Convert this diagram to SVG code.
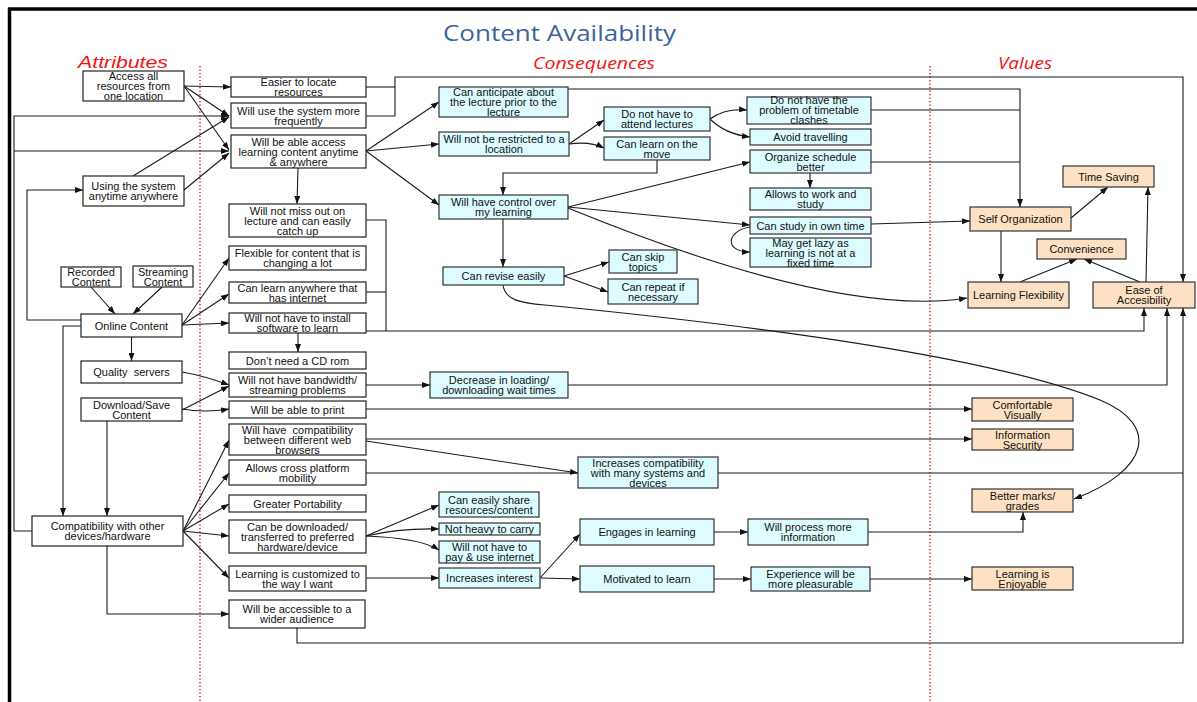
<svg xmlns="http://www.w3.org/2000/svg" width="1197" height="702" viewBox="0 0 1197 702">
<defs>
<marker id="a" viewBox="0 0 8 6" refX="8" refY="3" markerWidth="8" markerHeight="6" markerUnits="userSpaceOnUse" orient="auto"><path d="M0,0 L8,3 L0,6 z" fill="#111"/></marker>
<style>
.n rect{fill:#fff;stroke:#222;stroke-width:1.2}
.b rect{fill:#dcfcff;stroke:#333;stroke-width:1.2}
.v rect{fill:#fde1c2;stroke:#333;stroke-width:1.2}
text{font-family:"Liberation Sans",Arial,sans-serif;font-size:11px;text-anchor:middle;fill:#111;white-space:pre}
.h{font-style:italic;fill:#f01414;font-size:17px}
#conn path{fill:none;stroke:#1a1a1a;stroke-width:1.1}
#conn .ar{marker-end:url(#a)}
.dot{stroke:#c00000;stroke-width:1.3;stroke-dasharray:1.3,2.2}
</style>
</defs>
<rect width="1197" height="702" fill="#fff"/>
<line x1="8" y1="9" x2="1197" y2="9" stroke="#000" stroke-width="3.5"/>
<line x1="9.5" y1="8" x2="9.5" y2="702" stroke="#000" stroke-width="3.5"/>
<line class="dot" x1="200" y1="66" x2="200" y2="702"/>
<line class="dot" x1="930" y1="66" x2="930" y2="702"/>
<text x="559.5" y="41" style="font-family:'Open Sans','Liberation Sans',sans-serif;font-size:22px;fill:#3c6499" textLength="233" lengthAdjust="spacingAndGlyphs">Content Availability</text>
<text class="h" x="123" y="68" textLength="90" lengthAdjust="spacingAndGlyphs">Attributes</text>
<text class="h" x="594" y="69" style="font-family:'Open Sans','Liberation Sans',sans-serif" textLength="122" lengthAdjust="spacingAndGlyphs">Consequences</text>
<text class="h" x="1025" y="69" style="font-family:'Open Sans','Liberation Sans',sans-serif" textLength="54" lengthAdjust="spacingAndGlyphs">Values</text>

<g id="conn">
<path class="ar" d="M184,86 L231,87"/>
<path class="ar" d="M184,86 L229,116"/>
<path class="ar" d="M184,86 L229,150"/>
<path class="ar" d="M32,531 H14 V116 H229"/>
<path class="ar" d="M14,151 H229"/>
<path class="ar" d="M81,320 H27 V190 H83"/>
<path class="ar" d="M133,176 L229,117"/>
<path class="ar" d="M184,190 L229,153"/>
<path class="ar" d="M81,326 H63 V516"/>
<path class="ar" d="M107,421 V516"/>
<path class="ar" d="M91,287 L115,314"/>
<path class="ar" d="M162,287 L133,314"/>
<path class="ar" d="M131.5,337 V361"/>
<path class="ar" d="M182,325 L229,258"/>
<path class="ar" d="M182,325 L229,294"/>
<path class="ar" d="M182,325 L229,323"/>
<path class="ar" d="M182,372 Q205,376 229,385"/>
<path class="ar" d="M182,410 L229,386"/>
<path class="ar" d="M182,409 Q205,413 229,409"/>
<path class="ar" d="M298,333 V352"/>
<path class="ar" d="M298,168 L297,204"/>
<path class="ar" d="M183,531 L229,440"/>
<path class="ar" d="M183,531 L229,473"/>
<path class="ar" d="M183,531 L229,504"/>
<path class="ar" d="M183,531 L229,536"/>
<path class="ar" d="M183,531 L229,578"/>
<path class="ar" d="M107,546 V614 H229"/>
<path class="ar" d="M297,628 V643 H1183 V308"/>
<path d="M366,473 H1183"/>
<path class="ar" d="M568,385 H1167 V308"/>
<path d="M366,220 H386 V331"/>
<path d="M366,292 H386"/>
<path class="ar" d="M366,331 H1144 V308"/>
<path d="M366,87 H395"/>
<path class="ar" d="M366,116 H395 V77 H1183 V282"/>
<path class="ar" d="M568,89 H1020 V207"/>
<path d="M871,110 H1020"/>
<path d="M871,162 H1020"/>
<path class="ar" d="M871,224 L970,221"/>
<path class="ar" d="M1071,218 L1108,187"/>
<path class="ar" d="M1001,231 V282"/>
<path class="ar" d="M1020,282 L1077,259"/>
<path class="ar" d="M1140,282 L1084,259"/>
<path class="ar" d="M1146,282 L1148,187"/>
<path class="ar" d="M366,151 L439,102"/>
<path class="ar" d="M366,151 L439,144"/>
<path class="ar" d="M366,151 L439,205"/>
<path class="ar" d="M569,144 L604,120"/>
<path class="ar" d="M569,144 Q590,141 604,148"/>
<path class="ar" d="M657,160 V173 H503 V195"/>
<path class="ar" d="M710,119 Q725,108 747,110"/>
<path class="ar" d="M710,119 Q725,134 750,137"/>
<path class="ar" d="M810,173 V188"/>
<path class="ar" d="M568,207 L750,162"/>
<path class="ar" d="M568,207 L750,225"/>
<path class="ar" d="M568,208 C700,262 860,315 967,298"/>
<path class="ar" d="M750,227 C726,231 724,252 750,252"/>
<path class="ar" d="M503,219 V267"/>
<path class="ar" d="M564,276 L609,262"/>
<path class="ar" d="M564,276 L608,292"/>
<path class="ar" d="M503,285 C505,300 520,303 545,305 C800,330 1000,360 1100,400 C1160,425 1150,470 1074,499"/>
<path class="ar" d="M366,385 H430"/>
<path class="ar" d="M366,409 H972"/>
<path class="ar" d="M366,439 H972"/>
<path class="ar" d="M366,441 L578,473"/>
<path class="ar" d="M366,536 L439,505"/>
<path class="ar" d="M366,536 Q400,528 439,529"/>
<path class="ar" d="M366,536 Q420,538 439,550"/>
<path class="ar" d="M366,578 H439"/>
<path class="ar" d="M540,578 L580,534"/>
<path class="ar" d="M540,578 L580,579"/>
<path class="ar" d="M714,532 L748,532"/>
<path class="ar" d="M709,579 H751"/>
<path class="ar" d="M868,532 H1023 V512"/>
<path class="ar" d="M870,579 H972"/>
</g>

<g id="access" class="n"><rect x="83" y="71" width="101" height="30"/><text x="133.5" y="80">Access all</text><text x="133.5" y="90">resources from</text><text x="133.5" y="100">one location</text></g>
<g id="using" class="n"><rect x="83" y="176" width="101" height="30"/><text x="133.5" y="190">Using the system</text><text x="133.5" y="200">anytime anywhere</text></g>
<g id="recorded" class="n"><rect x="61" y="267" width="60" height="20"/><text x="91" y="276">Recorded</text><text x="91" y="286">Content</text></g>
<g id="streaming" class="n"><rect x="133" y="266" width="60" height="21"/><text x="163" y="275.5">Streaming</text><text x="163" y="285.5">Content</text></g>
<g id="online" class="n"><rect x="81" y="314" width="101" height="23"/><text x="131.5" y="329.5">Online Content</text></g>
<g id="quality" class="n"><rect x="81" y="361" width="101" height="22"/><text x="131.5" y="376">Quality  servers</text></g>
<g id="download" class="n"><rect x="81" y="398" width="101" height="23"/><text x="131.5" y="408.5">Download/Save</text><text x="131.5" y="418.5">Content</text></g>
<g id="compat" class="n"><rect x="32" y="516" width="151" height="30"/><text x="107.5" y="530">Compatibility with other</text><text x="107.5" y="540">devices/hardware</text></g>

<g id="easier" class="n"><rect x="231" y="77" width="135" height="20"/><text x="298.5" y="86">Easier to locate</text><text x="298.5" y="96">resources</text></g>
<g id="willuse" class="n"><rect x="231" y="103" width="135" height="25"/><text x="298.5" y="114.5">Will use the system more</text><text x="298.5" y="124.5">frequently</text></g>
<g id="able" class="n"><rect x="231" y="135" width="135" height="33"/><text x="298.5" y="145.5">Will be able access</text><text x="298.5" y="155.5">learning content anytime</text><text x="298.5" y="165.5">&amp; anywhere</text></g>
<g id="miss" class="n"><rect x="229" y="204" width="137" height="33"/><text x="297.5" y="214.5">Will not miss out on</text><text x="297.5" y="224.5">lecture and can easily</text><text x="297.5" y="234.5">catch up</text></g>
<g id="flexible" class="n"><rect x="229" y="246" width="137" height="24"/><text x="297.5" y="257">Flexible for content that is</text><text x="297.5" y="267">changing a lot</text></g>
<g id="anywhere" class="n"><rect x="229" y="282" width="137" height="21"/><text x="297.5" y="291.5">Can learn anywhere that</text><text x="297.5" y="301.5">has internet</text></g>
<g id="install" class="n"><rect x="229" y="313" width="137" height="20"/><text x="297.5" y="322">Will not have to install</text><text x="297.5" y="332">software to learn</text></g>
<g id="cdrom" class="n"><rect x="229" y="352" width="137" height="17"/><text x="297.5" y="364.5">Don’t need a CD rom</text></g>
<g id="bandwidth" class="n"><rect x="229" y="373" width="137" height="24"/><text x="297.5" y="384">Will not have bandwidth/</text><text x="297.5" y="394">streaming problems</text></g>
<g id="print" class="n"><rect x="229" y="401" width="137" height="17"/><text x="297.5" y="413.5">Will be able to print</text></g>
<g id="browsers" class="n"><rect x="229" y="424" width="137" height="31"/><text x="297.5" y="433.5">Will have  compatibility</text><text x="297.5" y="443.5">between different web</text><text x="297.5" y="453.5">browsers</text></g>
<g id="cross" class="n"><rect x="229" y="460" width="137" height="25"/><text x="297.5" y="471.5">Allows cross platform</text><text x="297.5" y="481.5">mobility</text></g>
<g id="portability" class="n"><rect x="229" y="495" width="137" height="17"/><text x="297.5" y="507.5">Greater Portability</text></g>
<g id="downloaded" class="n"><rect x="229" y="520" width="137" height="33"/><text x="297.5" y="530.5">Can be downloaded/</text><text x="297.5" y="540.5">transferred to preferred</text><text x="297.5" y="550.5">hardware/device</text></g>
<g id="customized" class="n"><rect x="229" y="566" width="137" height="25"/><text x="297.5" y="577.5">Learning is customized to</text><text x="297.5" y="587.5">the way I want</text></g>
<g id="wider" class="n"><rect x="229" y="600" width="136" height="28"/><text x="297" y="613">Will be accessible to a</text><text x="297" y="623">wider audience</text></g>

<g id="anticipate" class="b"><rect x="439" y="87" width="129" height="30"/><text x="503.5" y="96">Can anticipate about</text><text x="503.5" y="106">the lecture prior to the</text><text x="503.5" y="116">lecture</text></g>
<g id="restricted" class="b"><rect x="439" y="132" width="130" height="24"/><text x="504" y="143">Will not be restricted to a</text><text x="504" y="153">location</text></g>
<g id="attend" class="b"><rect x="604" y="107" width="106" height="24"/><text x="657" y="118">Do not have to</text><text x="657" y="128">attend lectures</text></g>
<g id="move" class="b"><rect x="604" y="137" width="106" height="23"/><text x="657" y="147.5">Can learn on the</text><text x="657" y="157.5">move</text></g>
<g id="control" class="b"><rect x="439" y="195" width="129" height="24"/><text x="503.5" y="206">Will have control over</text><text x="503.5" y="216">my learning</text></g>
<g id="timetable" class="b"><rect x="747" y="97" width="124" height="27"/><text x="809" y="104">Do not have the</text><text x="809" y="114">problem of timetable</text><text x="809" y="124">clashes</text></g>
<g id="travel" class="b"><rect x="750" y="129" width="121" height="16"/><text x="810.5" y="141">Avoid travelling</text></g>
<g id="organize" class="b"><rect x="750" y="150" width="121" height="23"/><text x="810.5" y="160.5">Organize schedule</text><text x="810.5" y="170.5">better</text></g>
<g id="work" class="b"><rect x="750" y="188" width="121" height="22"/><text x="810.5" y="198">Allows to work and</text><text x="810.5" y="208">study</text></g>
<g id="owntime" class="b"><rect x="750" y="217" width="121" height="17"/><text x="810.5" y="229.5">Can study in own time</text></g>
<g id="lazy" class="b"><rect x="750" y="238" width="121" height="29"/><text x="810.5" y="246.5">May get lazy as</text><text x="810.5" y="256.5">learning is not at a</text><text x="810.5" y="266.5">fixed time</text></g>
<g id="revise" class="b"><rect x="443" y="267" width="121" height="18"/><text x="503.5" y="280">Can revise easily</text></g>
<g id="skip" class="b"><rect x="609" y="250" width="68" height="23"/><text x="643" y="260.5">Can skip</text><text x="643" y="270.5">topics</text></g>
<g id="repeat" class="b"><rect x="608" y="279" width="90" height="25"/><text x="653" y="290.5">Can repeat if</text><text x="653" y="300.5">necessary</text></g>
<g id="decrease" class="b"><rect x="430" y="372" width="138" height="26"/><text x="499" y="384">Decrease in loading/</text><text x="499" y="394">downloading wait times</text></g>
<g id="inccompat" class="b"><rect x="578" y="457" width="140" height="31"/><text x="648" y="466.5">Increases compatibility</text><text x="648" y="476.5">with many systems and</text><text x="648" y="486.5">devices</text></g>
<g id="share" class="b"><rect x="439" y="492" width="100" height="25"/><text x="489" y="503.5">Can easily share</text><text x="489" y="513.5">resources/content</text></g>
<g id="heavy" class="b"><rect x="439" y="523" width="101" height="12"/><text x="489.5" y="533">Not heavy to carry</text></g>
<g id="pay" class="b"><rect x="439" y="541" width="101" height="22"/><text x="489.5" y="551">Will not have to</text><text x="489.5" y="561">pay &amp; use internet</text></g>
<g id="interest" class="b"><rect x="439" y="568" width="101" height="20"/><text x="489.5" y="582">Increases interest</text></g>
<g id="engages" class="b"><rect x="580" y="519" width="134" height="26"/><text x="647" y="536">Engages in learning</text></g>
<g id="motivated" class="b"><rect x="580" y="566" width="134" height="26"/><text x="647" y="583">Motivated to learn</text></g>
<g id="process" class="b"><rect x="748" y="519" width="120" height="26"/><text x="808" y="531">Will process more</text><text x="808" y="541">information</text></g>
<g id="experience" class="b"><rect x="751" y="567" width="119" height="24"/><text x="810.5" y="578">Experience will be</text><text x="810.5" y="588">more pleasurable</text></g>

<g id="timesaving" class="v"><rect x="1063" y="166" width="91" height="21"/><text x="1108.5" y="180.5">Time Saving</text></g>
<g id="selforg" class="v"><rect x="970" y="207" width="101" height="24"/><text x="1020.5" y="223">Self Organization</text></g>
<g id="convenience" class="v"><rect x="1037" y="239" width="89" height="20"/><text x="1081.5" y="253">Convenience</text></g>
<g id="flexibility" class="v"><rect x="968" y="282" width="101" height="26"/><text x="1018.5" y="299">Learning Flexibility</text></g>
<g id="ease" class="v"><rect x="1093" y="282" width="102" height="26"/><text x="1144" y="294">Ease of</text><text x="1144" y="304">Accesibility</text></g>
<g id="comfortable" class="v"><rect x="972" y="398" width="101" height="23"/><text x="1022.5" y="408.5">Comfortable</text><text x="1022.5" y="418.5">Visually</text></g>
<g id="infosec" class="v"><rect x="972" y="429" width="101" height="21"/><text x="1022.5" y="438.5">Information</text><text x="1022.5" y="448.5">Security</text></g>
<g id="marks" class="v"><rect x="972" y="489" width="101" height="23"/><text x="1022.5" y="499.5">Better marks/</text><text x="1022.5" y="509.5">grades</text></g>
<g id="enjoy" class="v"><rect x="972" y="567" width="101" height="23"/><text x="1022.5" y="577.5">Learning is</text><text x="1022.5" y="587.5">Enjoyable</text></g>
</svg>
